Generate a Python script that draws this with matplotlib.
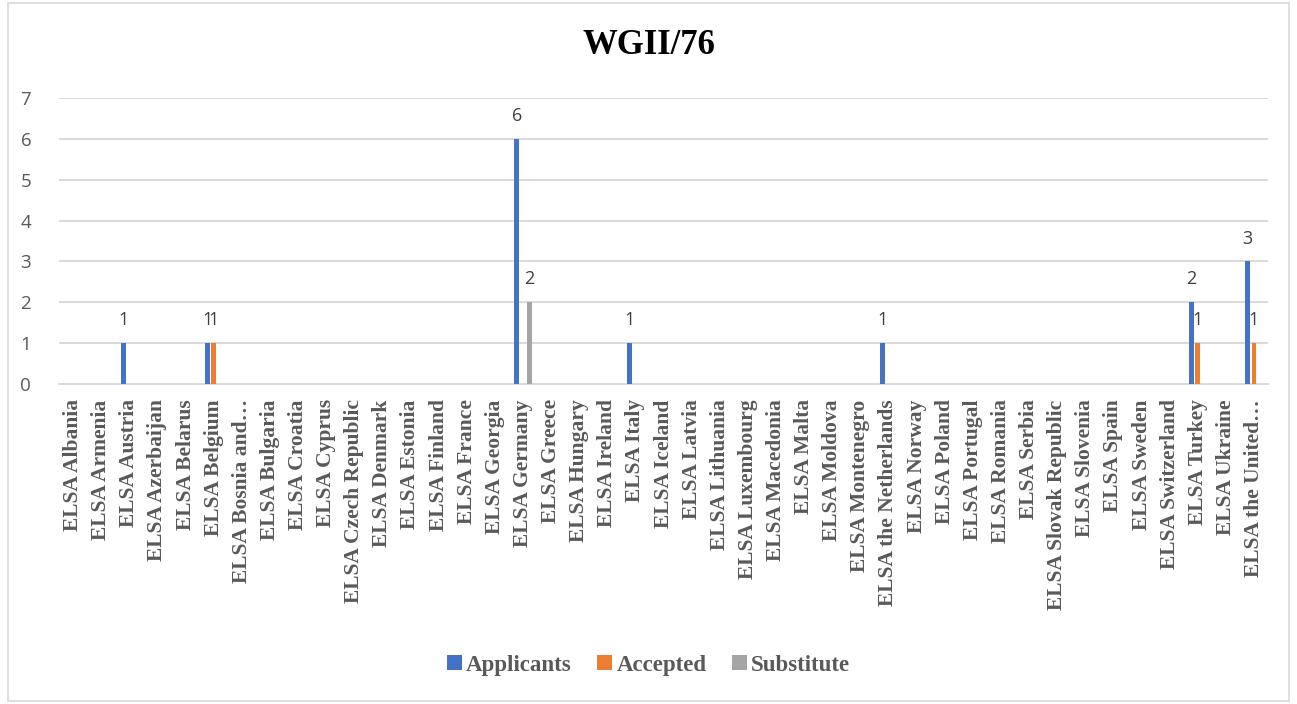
import numpy as np
import matplotlib.pyplot as plt
from matplotlib.patches import Rectangle


countries = ['ELSA Albania', 'ELSA Armenia', 'ELSA Austria', 'ELSA Azerbaijan',
             'ELSA Belarus', 'ELSA Belgium', 'ELSA Bosnia and\u2026', 'ELSA Bulgaria',
             'ELSA Croatia', 'ELSA Cyprus', 'ELSA Czech Republic', 'ELSA Denmark',
             'ELSA Estonia', 'ELSA Finland', 'ELSA France', 'ELSA Georgia',
             'ELSA Germany', 'ELSA Greece', 'ELSA Hungary', 'ELSA Ireland',
             'ELSA Italy', 'ELSA Iceland', 'ELSA Latvia', 'ELSA Lithuania',
             'ELSA Luxembourg', 'ELSA Macedonia', 'ELSA Malta', 'ELSA Moldova',
             'ELSA Montenegro', 'ELSA the Netherlands', 'ELSA Norway', 'ELSA Poland',
             'ELSA Portugal', 'ELSA Romania', 'ELSA Serbia', 'ELSA Slovak Republic',
             'ELSA Slovenia', 'ELSA Spain', 'ELSA Sweden', 'ELSA Switzerland',
             'ELSA Turkey', 'ELSA Ukraine', 'ELSA the United\u2026']

# only non-zero entries, everything else is 0
applicants_nz = {'ELSA Austria': 1, 'ELSA Belgium': 1, 'ELSA Germany': 6,
                 'ELSA Italy': 1, 'ELSA the Netherlands': 1, 'ELSA Turkey': 2,
                 'ELSA the United\u2026': 3}
accepted_nz = {'ELSA Belgium': 1, 'ELSA Turkey': 1, 'ELSA the United\u2026': 1}
substitute_nz = {'ELSA Germany': 2}

applicants = [applicants_nz.get(c, 0) for c in countries]
accepted = [accepted_nz.get(c, 0) for c in countries]
substitute = [substitute_nz.get(c, 0) for c in countries]

series = [('Applicants', applicants, '#4472C4'),
          ('Accepted', accepted, '#ED7D31'),
          ('Substitute', substitute, '#A5A5A5')]

SERIF = ['Liberation Serif', 'DejaVu Serif']
SANS = ['Open Sans', 'DejaVu Sans']
GREY = '#595959'

fig = plt.figure(figsize=(12.97, 7.04), dpi=100)
fig.patches.append(Rectangle((0.006, 0.004), 0.988, 0.992, transform=fig.transFigure,
                             fill=False, edgecolor='#d9d9d9', linewidth=1.2))
ax = fig.add_axes([0.0455, 0.4545, 0.9322, 0.4063])

x = np.arange(len(countries))
w = 0.17
offs = [-0.22, 0.0, 0.22]
for (name, vals, col), off in zip(series, offs):
    ax.bar(x + off, vals, width=w, color=col, label=name, zorder=3)
    for xi, v in zip(x, vals):
        if v:
            ax.annotate(str(v), (xi + off, v), xytext=(0, 10), textcoords='offset points',
                        ha='center', va='bottom', fontsize=13, color='#404040',
                        family=SANS)

ax.set_xlim(-0.5, len(countries) - 0.5)
ax.set_ylim(0, 7)
ax.set_yticks(range(8))
ax.grid(axis='y', color='#d9d9d9', linewidth=1.4, zorder=0)
for s in ['top', 'right', 'left']:
    ax.spines[s].set_visible(False)
ax.spines['bottom'].set_color('#d9d9d9')
ax.spines['bottom'].set_linewidth(1.4)
ax.tick_params(axis='both', length=0)
ax.tick_params(axis='y', pad=20, labelsize=13.5, labelcolor=GREY)
for lab in ax.get_yticklabels():
    lab.set_family(SANS)

ax.set_xticks(x)
ax.set_xticklabels(countries, rotation=90, fontsize=15.5, fontweight='bold',
                   color=GREY, family=SERIF)
ax.tick_params(axis='x', pad=11)

fig.text(0.5, 0.936, 'WGII/76', ha='center', va='center', fontsize=25,
         fontweight='bold', family=SERIF, color='#000000')

leg = fig.legend(loc='center', bbox_to_anchor=(0.5, 0.055), ncol=3, frameon=False,
                 prop={'family': SERIF, 'weight': 'bold', 'size': 16.5},
                 handlelength=0.65, handleheight=0.65, handletextpad=0.2,
                 columnspacing=1.1)
for t in leg.get_texts():
    t.set_color(GREY)

fig.savefig('out.png', dpi=100)
